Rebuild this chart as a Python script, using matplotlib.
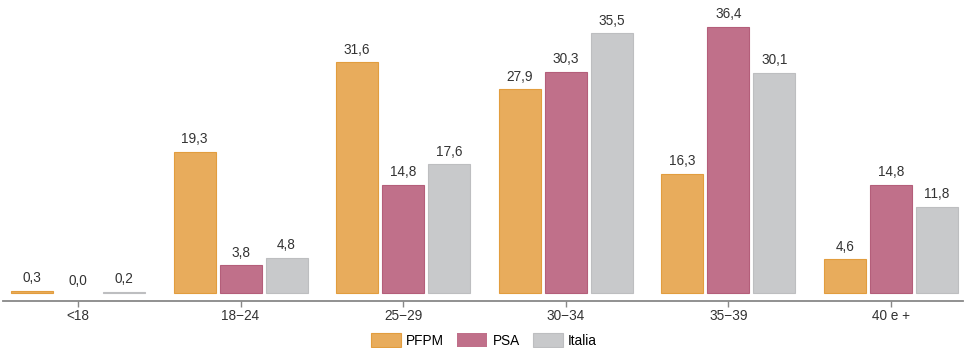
import numpy as np
import matplotlib.pyplot as plt

plt.rcParams['font.family'] = ['Liberation Sans', 'DejaVu Sans']

# Age classes and shares (%) for each group
categories = ['<18', '18\u221224', '25\u221229', '30\u221234', '35\u221239', '40 e +']
pfpm = [0.3, 19.3, 31.6, 27.9, 16.3, 4.6]
psa = [0.0, 3.8, 14.8, 30.3, 36.4, 14.8]
italia = [0.2, 4.8, 17.6, 35.5, 30.1, 11.8]

series = [
    ('PFPM', pfpm, '#E8AC5C', '#E29D3E'),
    ('PSA', psa, '#C0708A', '#B45E7A'),
    ('Italia', italia, '#C8C9CB', '#BDBEC0'),
]

fig = plt.figure(figsize=(9.68, 3.48), dpi=100)
ax = fig.add_axes([3 / 968, 47 / 348, 960 / 968, 301 / 348])

index = np.arange(len(categories))
bar_width = 0.258
step = 0.283

for k, (name, vals, color, edge) in enumerate(series):
    pos = index + (k - 1) * step
    lw = [0.8 if v > 0 else 0 for v in vals]
    ax.bar(pos, vals, bar_width, color=color, edgecolor=edge, linewidth=lw, label=name)
    for x, v in zip(pos, vals):
        ax.text(x, v + 0.75, f'{v:.1f}'.replace('.', ','), ha='center', va='bottom',
                fontsize=9.8, color='#333333')

ax.set_xlim(-0.461, 5.443)
ax.set_ylim(-1.09, 40.08)
ax.set_xticks(index)
ax.set_xticklabels(categories, fontsize=9.8, color='#333333')
ax.set_yticks([])
for s in ['top', 'right', 'left']:
    ax.spines[s].set_visible(False)
ax.spines['bottom'].set_color('#888888')
ax.spines['bottom'].set_linewidth(1.3)
ax.tick_params(axis='x', length=4, width=1, color='#888888', pad=2)

fig.legend(loc='lower center', ncol=3, frameon=False, fontsize=9.8,
           bbox_to_anchor=(0.5, -0.035), handlelength=2.2, handleheight=1.2,
           handletextpad=0.4, columnspacing=0.95)

fig.savefig('out.png', dpi=100)
